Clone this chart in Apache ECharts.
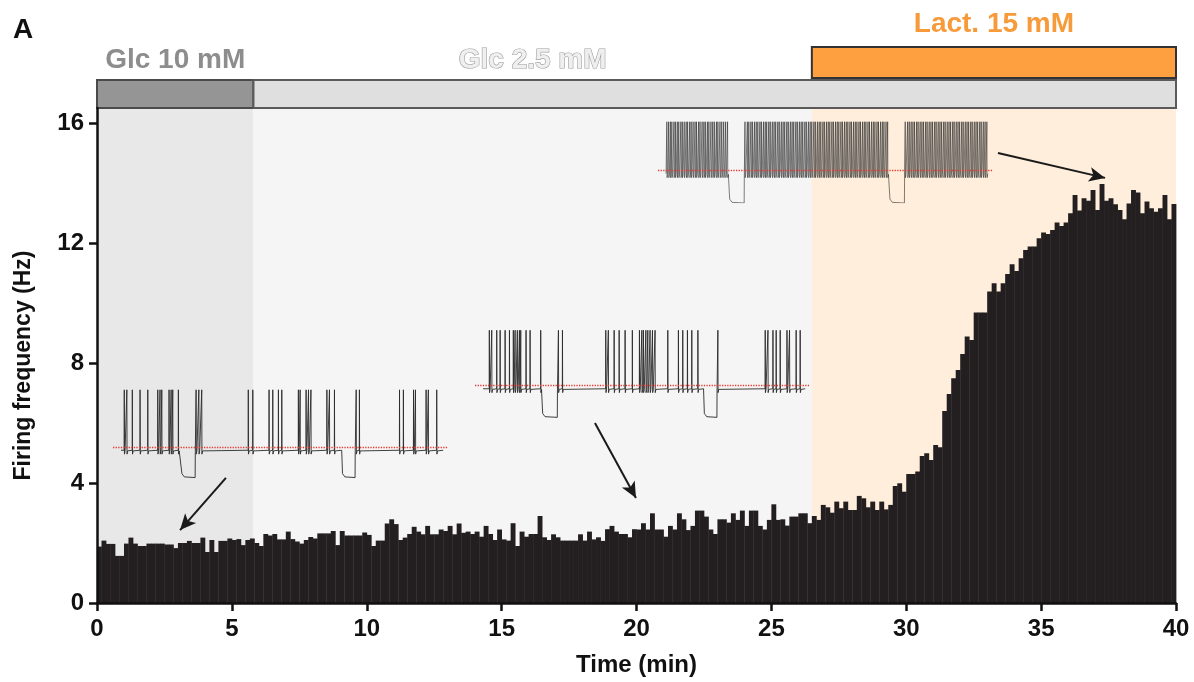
<!DOCTYPE html>
<html>
<head>
<meta charset="utf-8">
<script src="https://cdn.jsdelivr.net/npm/echarts@6/dist/echarts.min.js"></script>
<style>
  html, body { margin: 0; padding: 0; background: #fff; }
  #chart { width: 1194px; height: 682px; }
</style>
</head>
<body>
<div id="chart"></div>
<script>
// histogram: 10 s bins over 40 min
const binMinutes = 1 / 6;
const rateHz = [
  1.88, 2.08, 1.97, 1.97, 1.57, 1.57, 1.98, 2.18, 1.98, 1.9, 1.9, 1.98, 1.98, 1.98, 1.98, 1.95, 1.95, 1.83, 2.0, 2.0, 2.07, 2.0, 2.0, 2.18, 1.7, 2.1, 1.7, 2.07, 2.07, 2.15, 2.1,
  2.13, 1.93, 2.1, 2.15, 2.0, 1.9, 2.3, 2.25, 2.3, 2.12, 2.12, 2.38, 2.13, 2.05, 1.98, 2.1, 2.2, 2.15, 2.32, 2.32, 2.32, 2.4, 1.93, 2.4, 2.25, 2.25, 2.25, 2.25, 2.35, 2.27,
  1.9, 2.08, 2.08, 2.65, 2.79, 2.63, 2.1, 2.18, 2.3, 2.54, 2.38, 2.29, 2.57, 2.29, 2.29, 2.45, 2.4, 2.57, 2.29, 2.65, 2.34, 2.38, 2.3, 2.38, 2.21, 2.57, 2.3, 2.1, 2.45, 2.12,
  2.08, 2.66, 1.9, 2.38, 2.21, 2.3, 2.3, 2.9, 2.19, 2.1, 2.29, 2.19, 2.08, 2.08, 2.08, 2.08, 2.29, 2.08, 2.38, 2.12, 2.19, 2.07, 2.46, 2.57, 2.38, 2.3, 2.3, 2.19, 2.46, 2.45,
  2.66, 2.45, 2.99, 2.45, 2.45, 2.21, 2.57, 2.45, 2.99, 2.79, 2.43, 2.57, 3.08, 3.08, 2.88, 2.45, 2.3, 2.79, 2.79, 2.68, 2.99, 2.77, 3.08, 2.57, 3.08, 3.08, 2.57, 2.45, 2.77, 3.29, 2.77,
  2.79, 2.58, 2.88, 2.88, 2.99, 2.99, 2.66, 2.9, 2.77, 3.27, 3.19, 3.01, 3.38, 3.16, 3.38, 3.1, 3.1, 3.57, 3.49, 3.19, 3.38, 3.1, 3.38, 3.12, 3.27, 3.9, 3.99, 3.71,
  4.3, 4.3, 4.38, 4.9, 4.99, 4.77, 5.27, 5.19, 6.4, 6.97, 7.49, 7.77, 8.3, 8.88, 8.77, 9.68, 9.68, 9.68, 10.38, 10.66, 10.38, 10.66, 10.97, 11.29, 11.07, 11.49, 11.77, 11.88, 11.88, 12.16,
  12.35, 12.3, 12.43, 12.68, 12.57, 12.68, 12.99, 13.6, 13.08, 13.49, 13.41, 13.77, 13.1, 13.97, 13.41, 13.49, 13.29, 13.1, 12.79, 13.32, 13.77, 13.68, 12.99, 13.38, 13.16, 13.04, 13.16, 13.6, 12.79, 13.3
];
const yTicks = [0, 4, 8, 12, 16];

// perfusion conditions (min)
const condNames = ['Glc 10 mM', 'Glc 2.5 mM', 'Lact. 15 mM'];
const condStart = [0, 5.8, 26.5];
const condEnd = [5.8, 40, 40];

// inset traces: spike times and hyperpolarising steps (s), peaks (mV above dotted line)
const trace1Spikes = [0.2, 0.36, 0.7, 1.18, 1.66, 2.28, 2.42, 2.53, 2.98, 3.11, 3.21, 3.56, 4.66, 4.83, 5.01,
  7.9, 8.18, 9.19, 9.42, 9.77, 9.98, 11.01, 11.12, 11.49, 11.64, 11.79, 12.78, 12.94, 13.25, 14.6, 14.8,
  17.29, 17.53, 18.16, 18.28, 18.94, 19.08, 19.6];
const trace1Steps = [[3.73, 4.6], [13.7, 14.53]];
const trace2Spikes = [0.39, 0.54, 0.85, 1.06, 1.37, 1.64, 1.88, 1.99, 2.13, 2.26, 2.34, 2.67, 2.92, 3.58, 4.68, 4.93,
  7.62, 7.78, 8.14, 8.45, 8.82, 9.27, 9.71, 9.86, 9.96, 10.11, 10.23, 10.37, 10.52, 10.68, 11.47, 12.13, 12.4, 12.69,
  12.96, 13.34, 14.58, 17.52, 17.69, 18.0, 18.2, 18.45, 18.87, 19.03, 19.44, 19.69];
const trace2Steps = [[3.65, 4.61], [13.69, 14.52]];
const trace3Spikes = [0.05, 0.16, 0.27, 0.36, 0.49, 0.58, 0.7, 0.79, 0.92, 1.01, 1.13, 1.25, 1.34, 1.47, 1.56, 1.68,
  1.8, 1.89, 2.02, 2.11, 2.24, 2.35, 2.44, 2.57, 2.66, 2.79, 2.9, 3.0, 3.13, 3.22, 3.35, 3.46, 3.58, 3.7, 3.82,
  4.9, 5.05, 5.14, 5.27, 5.36, 5.49, 5.6, 5.7, 5.83, 5.92, 6.05, 6.16, 6.25, 6.38, 6.47, 6.6, 6.71, 6.81, 6.94,
  7.03, 7.16, 7.27, 7.37, 7.5, 7.59, 7.72, 7.83, 7.93, 8.06, 8.15, 8.28, 8.39, 8.49, 8.62, 8.71, 8.84, 8.95, 9.05,
  9.18, 9.27, 9.4, 9.51, 9.61, 9.74, 9.83, 9.96, 10.07, 10.17, 10.3, 10.39, 10.52, 10.63, 10.73, 10.86, 10.95,
  11.08, 11.19, 11.29, 11.42, 11.51, 11.64, 11.75, 11.85, 11.98, 12.07, 12.2, 12.31, 12.41, 12.54, 12.63, 12.76,
  12.87, 12.97, 13.1, 13.19, 13.32, 13.43, 13.53, 13.66, 13.76,
  14.85, 15.0, 15.1, 15.22, 15.33, 15.43, 15.56, 15.65, 15.78, 15.89, 15.99, 16.12, 16.21, 16.34, 16.45, 16.55,
  16.68, 16.77, 16.9, 17.01, 17.11, 17.24, 17.33, 17.46, 17.57, 17.67, 17.8, 17.89, 18.02, 18.13, 18.23, 18.36,
  18.45, 18.58, 18.69, 18.79, 18.92, 19.01, 19.14, 19.25, 19.35, 19.48, 19.57, 19.7, 19.81, 19.92];
const trace3Steps = [[3.9, 4.85], [13.85, 14.8]];
const tracePeak = [88, 85, 75];
const traceStep = [-46, -48, -49];

// ---------- build series data ----------
const histData = rateHz.map((v, i) => [i * binMinutes, (i + 1) * binMinutes, v]);

const condData = condNames.map((n, i) => {
  const next = i + 1 < condStart.length ? condStart[i + 1] : condEnd[i];
  return [condStart[i], condEnd[i], (condStart[i] + next) / 2];
});
const shadeData = condNames.map((n, i) => {
  const next = i + 1 < condStart.length ? condStart[i + 1] : condEnd[i];
  return [{ xAxis: condStart[i] }, { xAxis: next }];
});

function buildTrace(spikes, steps, peak, stepV) {
  const base = -5, ahp = -11;
  const ev = spikes.map(t => ({ t: t, kind: 'spike' }))
    .concat(steps.map(s => ({ t: s[0], end: s[1], kind: 'step' })));
  ev.sort((a, b) => a.t - b.t);
  const pts = [[0, base]];
  ev.forEach(e => {
    if (e.kind === 'spike') {
      pts.push([e.t - 0.008, base], [e.t, peak], [e.t + 0.012, ahp], [e.t + 0.05, base - 1]);
    } else {
      pts.push([e.t, base], [e.t + 0.05, stepV + 5], [e.t + 0.2, stepV], [e.end, stepV - 1], [e.end + 0.01, base - 2]);
    }
  });
  pts.push([20, base]);
  return pts;
}
const traces = [
  buildTrace(trace1Spikes, trace1Steps, tracePeak[0], traceStep[0]),
  buildTrace(trace2Spikes, trace2Steps, tracePeak[1], traceStep[1]),
  buildTrace(trace3Spikes, trace3Steps, tracePeak[2], traceStep[2])
];

// ---------- styles / layout ----------
const shadeColors = ['#e8e8e8', '#f5f5f5', '#feeedb'];
const condFill = ['#959595', '#dfdfdf', '#ffa040'];
const condStroke = ['#4a4a4a', '#5a5a5a', '#333'];
const condLabel = [
  { fill: '#8d8d8d', stroke: null },
  { fill: '#efefef', stroke: '#9c9c9c' },
  { fill: '#f79a3a', stroke: null }
];
const insetPos = [
  { left: 113, top: 388.5 },
  { left: 475, top: 327 },
  { left: 658, top: 112 }
];
const boldFont = 'Liberation Sans, Arial, sans-serif';

const myChart = echarts.init(document.getElementById('chart'));

const grids = [
  { left: 97, right: 18, top: 108, bottom: 79 },
  { left: 97, right: 18, top: 12, height: 96 }
].concat(insetPos.map(p => ({ left: p.left, top: p.top, width: 335, height: 91 })));

const xAxes = [
  {
    gridIndex: 0, type: 'value', min: 0, max: 40, interval: 5, z: 10,
    name: 'Time (min)', nameLocation: 'middle', nameGap: 50,
    nameTextStyle: { fontFamily: boldFont, fontWeight: 'bold', fontSize: 24, color: '#111' },
    axisLine: { lineStyle: { color: '#111', width: 2.5 } },
    axisTick: { length: 8, lineStyle: { color: '#111', width: 2.5 } },
    axisLabel: { fontFamily: boldFont, fontWeight: 'bold', fontSize: 24, color: '#111', margin: 14 },
    splitLine: { show: false }
  },
  { gridIndex: 1, type: 'value', min: 0, max: 40, show: false }
].concat(insetPos.map((p, i) => ({ gridIndex: i + 2, type: 'value', min: -0.5, max: 20.3, show: false })));

const yAxes = [
  {
    gridIndex: 0, type: 'value', min: 0, max: 16.5, z: 10,
    name: 'Firing frequency (Hz)', nameLocation: 'middle', nameGap: 62, nameRotate: 90,
    nameTextStyle: { fontFamily: boldFont, fontWeight: 'bold', fontSize: 23, color: '#111', padding: [0, 20, 0, 0] },
    axisLine: { show: true, lineStyle: { color: '#111', width: 2.5 } },
    axisTick: { show: true, length: 8, customValues: yTicks, lineStyle: { color: '#111', width: 2.5 } },
    axisLabel: { customValues: yTicks, fontFamily: boldFont, fontWeight: 'bold', fontSize: 24, color: '#111', margin: 13 },
    splitLine: { show: false }
  },
  { gridIndex: 1, type: 'value', min: 0, max: 96, show: false }
].concat(insetPos.map((p, i) => ({ gridIndex: i + 2, type: 'value', min: -50, max: 90, show: false })));

const arrowLines = [
  [{ coord: [4.78, 4.17] }, { coord: [3.08, 2.43] }],
  [{ coord: [18.46, 6.0] }, { coord: [19.98, 3.5] }],
  [{ coord: [33.4, 15.0] }, { coord: [37.37, 14.17] }]
];

const series = [
  {
    name: 'firing',
    type: 'custom',
    xAxisIndex: 0, yAxisIndex: 0,
    data: histData,
    encode: { x: [0, 1], y: 2 },
    renderItem: function (params, api) {
      const p0 = api.coord([api.value(0), 0]);
      const p1 = api.coord([api.value(1), api.value(2)]);
      return {
        type: 'rect',
        shape: { x: p0[0], y: p1[1], width: p1[0] - p0[0] + 0.4, height: p0[1] - p1[1] },
        style: { fill: '#231f20' }
      };
    },
    markArea: {
      silent: true,
      data: shadeData.map((d, i) => [Object.assign({ itemStyle: { color: shadeColors[i] } }, d[0]), d[1]])
    },
    markLine: {
      silent: true,
      symbol: ['none', 'arrow'],
      symbolSize: [11, 16],
      label: { show: false },
      lineStyle: { color: '#1a1a1a', width: 2, type: 'solid' },
      data: arrowLines
    }
  },
  {
    name: 'conditions',
    type: 'custom',
    xAxisIndex: 1, yAxisIndex: 1,
    data: condData,
    encode: { x: [0, 1] },
    renderItem: function (params, api) {
      const i = params.dataIndex;
      const upper = i === 2;
      const a = api.coord([api.value(0), upper ? 30 : 0]);
      const b = api.coord([api.value(1), upper ? 61 : 28]);
      const lab = api.coord([api.value(2), upper ? 84 : 48]);
      const ls = condLabel[i];
      return {
        type: 'group',
        children: [
          {
            type: 'rect',
            shape: { x: a[0], y: b[1], width: b[0] - a[0], height: a[1] - b[1] },
            style: { fill: condFill[i], stroke: condStroke[i], lineWidth: 2 }
          },
          {
            type: 'text',
            style: {
              x: lab[0], y: lab[1], text: condNames[i],
              align: 'center', verticalAlign: 'middle',
              font: 'bold 28px ' + boldFont,
              fill: ls.fill, stroke: ls.stroke, lineWidth: ls.stroke ? 1.2 : 0
            }
          }
        ]
      };
    }
  }
].concat(traces.map((pts, i) => ({
  name: 'trace' + (i + 1),
  type: 'line',
  xAxisIndex: i + 2, yAxisIndex: i + 2,
  data: pts,
  showSymbol: false,
  silent: true,
  animation: false,
  z: 6,
  lineStyle: { color: '#2a2a2a', width: i === 2 ? 0.6 : 0.9 },
  markLine: {
    silent: true, symbol: 'none', label: { show: false }, z: 8,
    lineStyle: { color: '#e43b33', type: 'dotted', width: 1.3 },
    data: [{ yAxis: 0 }]
  }
})));

const option = {
  animation: false,
  grid: grids,
  xAxis: xAxes,
  yAxis: yAxes,
  series: series,
  graphic: [
    { type: 'text', left: 13, top: 16, style: { text: 'A', font: 'bold 28px ' + boldFont, fill: '#111' } },
    { type: 'rect', shape: { x: 570, y: 140, width: 3.5, height: 27 }, style: { fill: '#111' } },
    { type: 'text', style: { x: 579, y: 154, text: '40 mV', font: 'bold 19px ' + boldFont, fill: '#111', verticalAlign: 'middle' } },
    { type: 'rect', shape: { x: 663, y: 196.5, width: 48, height: 3.5 }, style: { fill: '#111' } },
    { type: 'text', style: { x: 687, y: 214, text: '3 s', font: 'bold 23px ' + boldFont, fill: '#111', align: 'center', verticalAlign: 'middle' } }
  ]
};

myChart.setOption(option);

window.addEventListener('resize', function () {
  myChart.resize();
});
</script>
</body>
</html>
